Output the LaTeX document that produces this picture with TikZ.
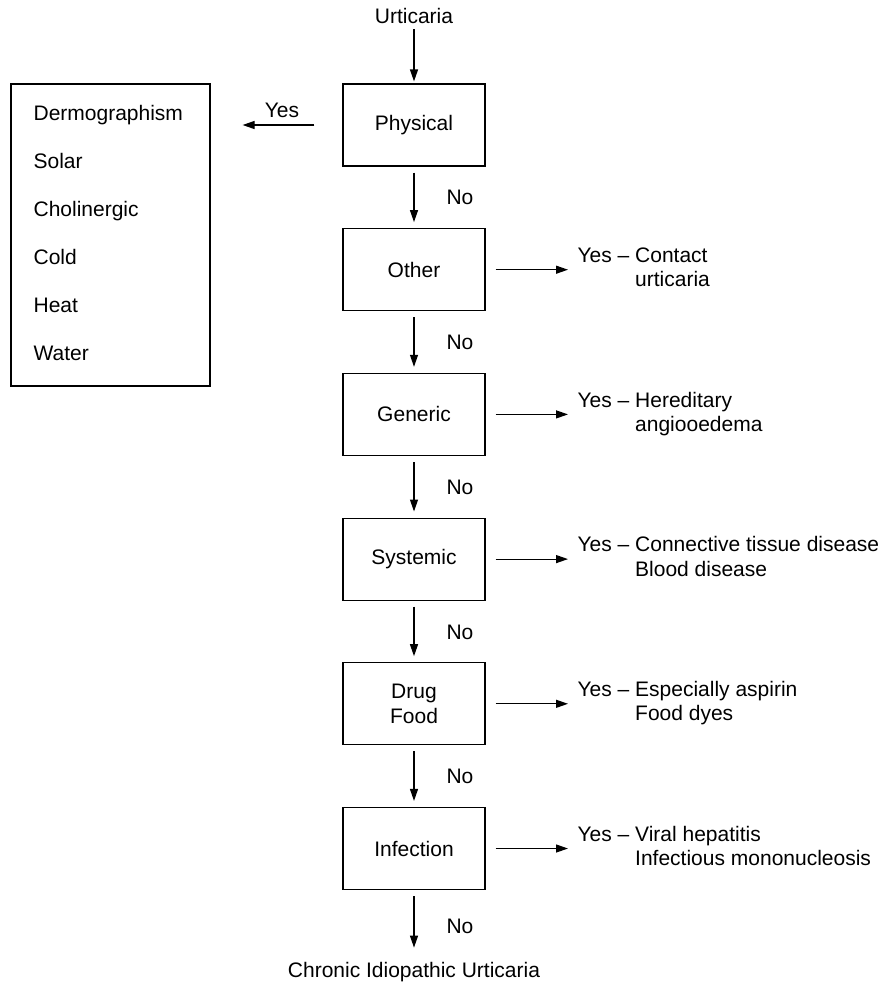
\documentclass[tikz,border=0pt]{standalone}
\usepackage{fontspec}
\setmainfont{Liberation Sans}
\usetikzlibrary{arrows.meta}
\begin{document}
\begin{tikzpicture}[x=1pt,y=-1pt,
  font=\fontsize{21}{24.5}\selectfont,
  line width=1.2pt,
  box/.style={draw, minimum width=142pt, minimum height=82pt, align=center, inner sep=0pt},
  arr/.style={-{Triangle[length=12pt,width=8pt]}},
  lbl/.style={inner sep=0pt},
  item/.style={inner sep=0pt, anchor=base west},
  yesnote/.style={inner sep=0pt, anchor=west},
  down/.style={arr, shorten <=6pt, shorten >=6pt},
  side/.style={arr, shorten <=10pt, shorten >=9pt}]
\useasboundingbox (0,0) rectangle (884,989);

\node[lbl] (urt) at (414,16) {Urticaria};

\node[box] (phys) at (414,125) {Physical};
\node[box] (other) at (414,269.7) {Other};
\node[box] (gen) at (414,414.4) {Generic};
\node[box] (sys) at (414,559.1) {Systemic};
\node[box] (drug) at (414,703.8) {Drug\\Food};
\node[box] (inf) at (414,848.5) {Infection};

\node[lbl] (chronic) at (414,972) {Chronic Idiopathic Urticaria};

% left list box
\node[draw, minimum width=199pt, minimum height=302pt, inner sep=0pt] (list) at (110.5,235) {};
\node[item] (l1) at (33,120.5) {Dermographism};
\node[item] (l2) at (33,168.5) {Solar};
\node[item] (l3) at (33,216.5) {Cholinergic};
\node[item] (l4) at (33,264.5) {Cold};
\node[item] (l5) at (33,312.5) {Heat};
\node[item] (l6) at (33,360.5) {Water};

% yes notes
\node[yesnote] (yo) at (577,269.7) {\begin{tabular}{@{}l@{\ }l@{}}Yes –&Contact\\&urticaria\end{tabular}};
\node[yesnote] (yg) at (577,414.4) {\begin{tabular}{@{}l@{\ }l@{}}Yes –&Hereditary\\&angiooedema\end{tabular}};
\node[yesnote] (ys) at (577,559.1) {\begin{tabular}{@{}l@{\ }l@{}}Yes –&Connective tissue disease\\&Blood disease\end{tabular}};
\node[yesnote] (yd) at (577,703.8) {\begin{tabular}{@{}l@{\ }l@{}}Yes –&Especially aspirin\\&Food dyes\end{tabular}};
\node[yesnote] (yi) at (577,848.5) {\begin{tabular}{@{}l@{\ }l@{}}Yes –&Viral hepatitis\\&Infectious mononucleosis\end{tabular}};

% vertical arrows
\draw[arr, shorten <=5pt, shorten >=2pt] (urt) -- (phys.north);
\draw[down] (phys.south) -- (other.north);
\draw[down] (other.south) -- (gen.north);
\draw[down] (gen.south) -- (sys.north);
\draw[down] (sys.south) -- (drug.north);
\draw[down] (drug.south) -- (inf.north);
\draw[arr, shorten <=6pt, shorten >=14pt] (inf.south) -- (chronic.north);

% No labels
\node[lbl] (n1) at (460,197.5) {No};
\node[lbl] (n2) at (460,342.5) {No};
\node[lbl] (n3) at (460,487) {No};
\node[lbl] (n4) at (460,632) {No};
\node[lbl] (n5) at (460,776.5) {No};
\node[lbl] (n6) at (460,926) {No};

% Yes arrow to the left
\draw[arr, shorten <=28pt, shorten >=32pt] (phys.west) -- (list.east |- phys.west);
\node[lbl] (yesl) at (282,110) {Yes};

% right arrows
\draw[side] (other.east) -- (yo.west);
\draw[side] (gen.east) -- (yg.west);
\draw[side] (sys.east) -- (ys.west);
\draw[side] (drug.east) -- (yd.west);
\draw[side] (inf.east) -- (yi.west);
\end{tikzpicture}
\end{document}
